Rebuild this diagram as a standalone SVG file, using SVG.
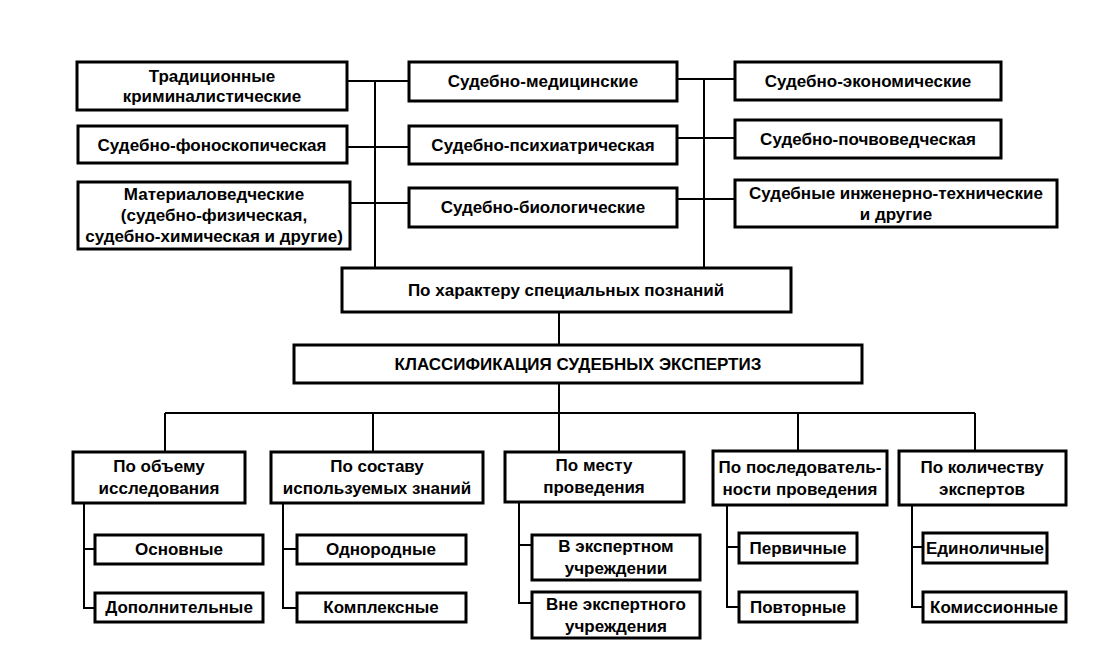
<svg xmlns="http://www.w3.org/2000/svg" width="1105" height="649" viewBox="0 0 1105 649">
<style>
.b{fill:#fff;stroke:#000;stroke-width:3}
.t{font-family:"Liberation Sans",Arial,sans-serif;font-weight:bold;font-size:17px;fill:#000;text-anchor:middle;dominant-baseline:central}
.c{fill:none;stroke:#000;stroke-width:2}
</style>
<rect width="1105" height="649" fill="#fff"/>
<g id="connectors" class="c">
<path d="M375 81V268M347 81H409M347 147H409M350 203H409"/>
<path d="M704 79V268M677 79H735M677 138H735M677 199H735"/>
<path d="M559 312V345M559 383V413M165 413H975M165 413V452M373 413V452M559 413V452M798 413V451M975 413V451"/>
<path d="M84 503V608H95M84 549H95"/>
<path d="M283 503V608H297M283 549H297"/>
<path d="M519 502V603H532M519 545H532"/>
<path d="M727 505V607H739M727 547H739"/>
<path d="M912 505V607H923M912 547H923"/>
</g>
<g id="n-trad"><rect class="b" x="77" y="62" width="270" height="48"/><text class="t" x="212" y="76">Традиционные</text><text class="t" x="212" y="96">криминалистические</text></g>
<g id="n-fono"><rect class="b" x="78" y="126" width="269" height="37"/><text class="t" x="212" y="145">Судебно-фоноскопическая</text></g>
<g id="n-mat"><rect class="b" x="78" y="182" width="272" height="67"/><text class="t" x="214" y="194">Материаловедческие</text><text class="t" x="214" y="215">(судебно-физическая,</text><text class="t" x="214" y="236">судебно-химическая и другие)</text></g>
<g id="n-med"><rect class="b" x="409" y="62" width="268" height="39"/><text class="t" x="543" y="81">Судебно-медицинские</text></g>
<g id="n-psych"><rect class="b" x="409" y="126" width="268" height="38"/><text class="t" x="543" y="145">Судебно-психиатрическая</text></g>
<g id="n-bio"><rect class="b" x="409" y="188" width="268" height="39"/><text class="t" x="543" y="207">Судебно-биологические</text></g>
<g id="n-econ"><rect class="b" x="735" y="62" width="266" height="38"/><text class="t" x="868" y="81">Судебно-экономические</text></g>
<g id="n-soil"><rect class="b" x="735" y="120" width="266" height="38"/><text class="t" x="868" y="139">Судебно-почвоведческая</text></g>
<g id="n-eng"><rect class="b" x="735" y="180" width="322" height="47"/><text class="t" x="896" y="193">Судебные инженерно-технические</text><text class="t" x="896" y="214">и другие</text></g>
<g id="n-char"><rect class="b" x="342" y="268" width="449" height="44"/><text class="t" x="566" y="290">По характеру специальных познаний</text></g>
<g id="n-class"><rect class="b" x="294" y="345" width="568" height="38"/><text class="t" x="578" y="364">КЛАССИФИКАЦИЯ СУДЕБНЫХ ЭКСПЕРТИЗ</text></g>
<g id="n-vol"><rect class="b" x="73" y="452" width="172" height="51"/><text class="t" x="159" y="466">По объему</text><text class="t" x="159" y="488">исследования</text></g>
<g id="n-comp"><rect class="b" x="271" y="452" width="212" height="51"/><text class="t" x="377" y="466">По составу</text><text class="t" x="377" y="488">используемых знаний</text></g>
<g id="n-place"><rect class="b" x="505" y="452" width="179" height="50"/><text class="t" x="594" y="465">По месту</text><text class="t" x="594" y="487">проведения</text></g>
<g id="n-seq"><rect class="b" x="713" y="451" width="174" height="54"/><text class="t" x="800" y="467">По последователь-</text><text class="t" x="800" y="489">ности проведения</text></g>
<g id="n-num"><rect class="b" x="899" y="451" width="167" height="54"/><text class="t" x="982" y="467">По количеству</text><text class="t" x="982" y="489">экспертов</text></g>
<g id="n-osn"><rect class="b" x="95" y="535" width="168" height="29"/><text class="t" x="179" y="549">Основные</text></g>
<g id="n-dop"><rect class="b" x="95" y="593" width="168" height="29"/><text class="t" x="179" y="607">Дополнительные</text></g>
<g id="n-odn"><rect class="b" x="297" y="535" width="169" height="29"/><text class="t" x="381" y="549">Однородные</text></g>
<g id="n-kompl"><rect class="b" x="297" y="593" width="169" height="29"/><text class="t" x="381" y="607">Комплексные</text></g>
<g id="n-vexp"><rect class="b" x="532" y="535" width="168" height="45"/><text class="t" x="616" y="546">В экспертном</text><text class="t" x="616" y="568">учреждении</text></g>
<g id="n-vneexp"><rect class="b" x="532" y="592" width="168" height="46"/><text class="t" x="616" y="604">Вне экспертного</text><text class="t" x="616" y="626">учреждения</text></g>
<g id="n-perv"><rect class="b" x="739" y="533" width="118" height="30"/><text class="t" x="798" y="548">Первичные</text></g>
<g id="n-povt"><rect class="b" x="739" y="592" width="118" height="30"/><text class="t" x="798" y="607">Повторные</text></g>
<g id="n-edin"><rect class="b" x="923" y="533" width="124" height="30"/><text class="t" x="985" y="548">Единоличные</text></g>
<g id="n-komis"><rect class="b" x="923" y="592" width="143" height="30"/><text class="t" x="994" y="607">Комиссионные</text></g>
</svg>
